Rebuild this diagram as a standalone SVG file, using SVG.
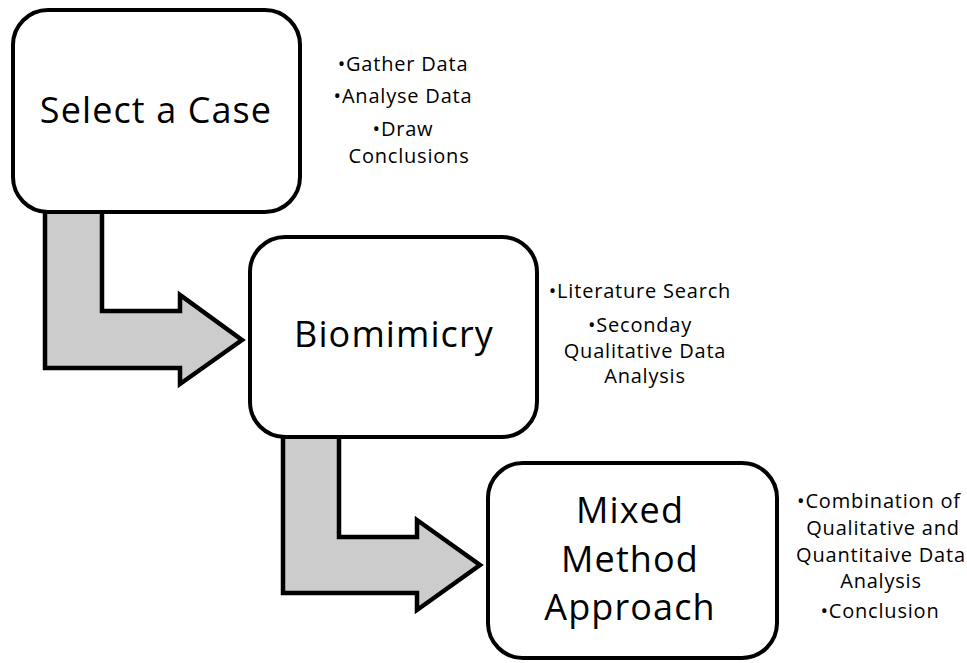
<svg xmlns="http://www.w3.org/2000/svg" width="967" height="663" viewBox="0 0 967 663">
<style>
.box{fill:#fff;stroke:#000;stroke-width:4}
.arr{fill:#cccccc;stroke:#000;stroke-width:4.5;stroke-linejoin:miter}
.t{font-family:"Open Sans","Noto Sans",sans-serif;fill:#000;text-anchor:middle}
.big{font-size:36px;letter-spacing:1.1px}
.sm{font-size:20px;letter-spacing:0.8px}
</style>
<rect width="967" height="663" fill="#fff"/>
<g id="connectors">
<polygon class="arr" points="45,211 102,211 102,311 180,311 180,295 242,340 180,384 180,368 45,368"/>
<polygon class="arr" points="283,436 339,436 339,537 417,537 417,520 480,565 417,610 417,593 283,593"/>
</g>
<g id="node-select">
<rect class="box" x="13" y="10" width="287" height="202" rx="35"/>
<text class="t big" x="156" y="123">Select a Case</text>
</g>
<g id="node-biomimicry">
<rect class="box" x="250" y="237" width="287" height="200" rx="35"/>
<text class="t big" x="394" y="347">Biomimicry</text>
</g>
<g id="node-mixed">
<rect class="box" x="488" y="463" width="289" height="195" rx="35"/>
<text class="t big" x="630" y="523">Mixed</text>
<text class="t big" x="630" y="572">Method</text>
<text class="t big" x="630" y="620">Approach</text>
</g>
<g id="notes-select">
<text class="t sm" x="403" y="71">•Gather Data</text>
<text class="t sm" x="403" y="103">•Analyse Data</text>
<text class="t sm" x="403" y="136">•Draw</text>
<text class="t sm" x="409" y="163">Conclusions</text>
</g>
<g id="notes-biomimicry">
<text class="t sm" x="640" y="298">•Literature Search</text>
<text class="t sm" x="640" y="332">•Seconday</text>
<text class="t sm" x="645" y="358">Qualitative Data</text>
<text class="t sm" x="645" y="383">Analysis</text>
</g>
<g id="notes-mixed">
<text class="t sm" x="879" y="508">•Combination of</text>
<text class="t sm" x="883" y="535">Qualitative and</text>
<text class="t sm" x="881" y="562">Quantitaive Data</text>
<text class="t sm" x="881" y="588">Analysis</text>
<text class="t sm" x="880" y="618">•Conclusion</text>
</g>
</svg>
